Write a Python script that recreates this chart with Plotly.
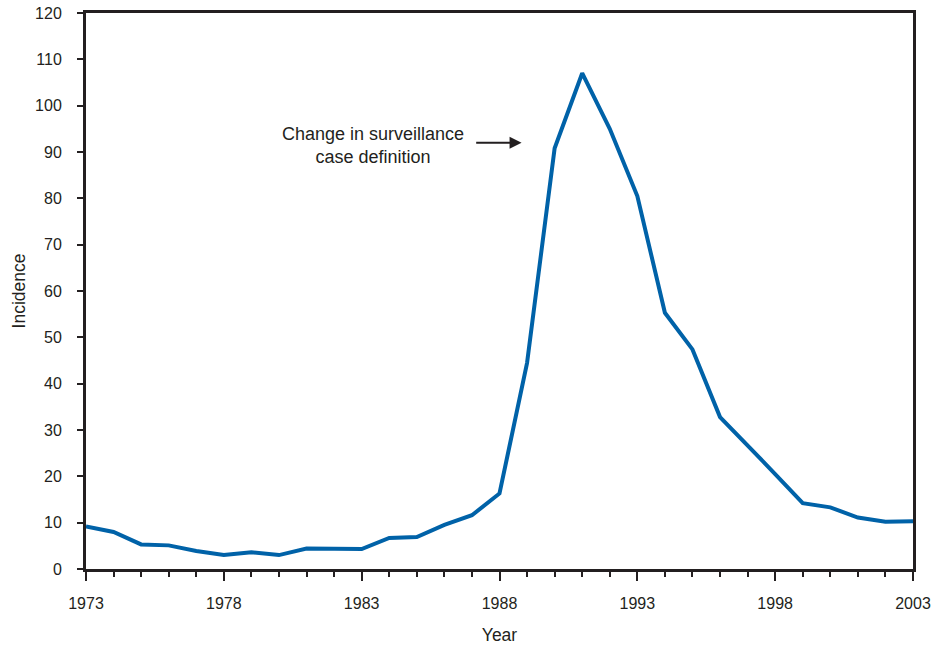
import plotly.graph_objects as go

# Incidence by year
years = list(range(1973, 2004))
incidence = [9.2, 8.0, 5.3, 5.1, 3.9, 3.0, 3.6, 3.0, 4.4, 4.3,
             4.3, 6.7, 6.9, 9.5, 11.6, 16.3, 44.5, 90.8, 107.0, 95.0,
             80.5, 55.3, 47.4, 32.8, 26.8, 20.5, 14.2, 13.3, 11.1, 10.2,
             10.3]

x_ticks = [1973, 1978, 1983, 1988, 1993, 1998, 2003]
y_ticks = list(range(0, 121, 10))

ink = "#231f20"
font = "Liberation Sans, Arial, Helvetica, sans-serif"

fig = go.Figure()
fig.add_trace(
    go.Scatter(
        x=years,
        y=incidence,
        mode="lines",
        line=dict(color="#0062a8", width=4),
        showlegend=False,
        hoverinfo="x+y",
    )
)

# Arrow pointing at the change in case definition
fig.add_annotation(
    x=1988.8, y=92, ax=1987.1, ay=92,
    xref="x", yref="y", axref="x", ayref="y",
    text="", showarrow=True,
    arrowhead=2, arrowsize=1.2, arrowwidth=2, arrowcolor=ink,
)
fig.add_annotation(
    x=1983.4, y=91.3, xref="x", yref="y",
    text="Change in surveillance<br>case definition",
    showarrow=False, align="center",
    font=dict(family=font, size=18, color=ink),
)

fig.update_layout(
    width=937,
    height=645,
    margin=dict(l=86, r=24, t=13, b=76, autoexpand=False),
    plot_bgcolor="white",
    paper_bgcolor="white",
    font=dict(family=font, size=16, color=ink),
    xaxis=dict(
        range=[1973, 2003],
        tickvals=x_ticks,
        ticks="outside", ticklen=9, tickwidth=2, tickcolor=ink,
        minor=dict(dtick=1, tick0=1973, ticks="outside", ticklen=5,
                   tickwidth=2, tickcolor=ink),
        ticklabelstandoff=9, ticklabeloverflow="allow",
        showline=True, linecolor=ink, linewidth=3, mirror=True,
        showgrid=False, zeroline=False, automargin=False,
        title=dict(text="Year", font=dict(size=17.5), standoff=25),
    ),
    yaxis=dict(
        range=[0, 120],
        tickvals=y_ticks,
        ticks="outside", ticklen=6, tickwidth=2, tickcolor=ink,
        ticklabelstandoff=12, ticklabeloverflow="allow",
        showline=True, linecolor=ink, linewidth=3, mirror=True,
        showgrid=False, zeroline=False, automargin=False,
        title=dict(text="Incidence", font=dict(size=17.5), standoff=5),
    ),
)

# drop the default 8px body margin so the figure fills the window exactly
fig.write_html(
    "out.html",
    config={"displayModeBar": False},
    post_script="document.body.style.margin='0';document.body.style.overflow='hidden';",
)
